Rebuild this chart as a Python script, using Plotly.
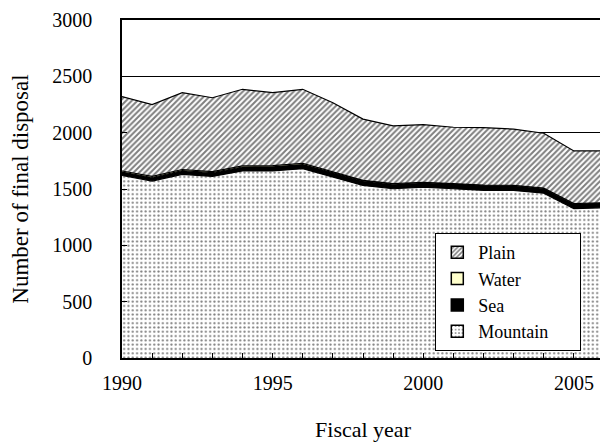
import plotly.graph_objects as go

# ---------------------------------------------------------------------------
# Data
# ---------------------------------------------------------------------------
years = list(range(1990, 2007))
mountain = [1620, 1570, 1630, 1612, 1660, 1660, 1680, 1605, 1532, 1502,
            1516, 1502, 1488, 1487, 1463, 1325, 1334]
sea = [30, 32, 33, 33, 35, 37, 37, 38, 40, 40, 40, 42, 42, 42, 42, 42, 42]
water = [10, 10, 10, 10, 10, 10, 10, 6, 5, 5, 4, 4, 4, 4, 4, 3, 3]
total = [2320, 2250, 2355, 2310, 2385, 2355, 2385, 2265, 2120, 2060,
         2072, 2048, 2045, 2032, 1995, 1838, 1838]
plain = [t - m - s - w for t, m, s, w in zip(total, mountain, sea, water)]

FONT = "Liberation Serif, Times New Roman, serif"
OUTLINE = dict(color="black", width=1.2)

DOTS = dict(shape=".", fgcolor="black", bgcolor="white", size=4.3, solidity=0.2)
HATCH = dict(shape="/", fgcolor="black", bgcolor="white", size=4, solidity=0.5)

fig = go.Figure()

# --- Stacked areas (bottom to top) ---
fig.add_trace(go.Scatter(x=years, y=mountain, name="Mountain", mode="lines",
                         stackgroup="one", line=OUTLINE, fillcolor="white",
                         fillpattern=DOTS, showlegend=False))
fig.add_trace(go.Scatter(x=years, y=sea, name="Sea", mode="lines",
                         stackgroup="one", line=OUTLINE, fillcolor="black",
                         showlegend=False))
fig.add_trace(go.Scatter(x=years, y=water, name="Water", mode="lines",
                         stackgroup="one", line=OUTLINE, fillcolor="#FFFFCC",
                         showlegend=False))
fig.add_trace(go.Scatter(x=years, y=plain, name="Plain", mode="lines",
                         stackgroup="one", line=OUTLINE, fillcolor="white",
                         fillpattern=HATCH, showlegend=False))

# --- Legend swatches (empty bars give square patterned boxes) ---
# trailing non-breaking spaces only widen the legend box
swatches = [
    ("Plain", dict(color="white", pattern=HATCH)),
    ("Water", dict(color="#FFFFCC")),
    ("Sea", dict(color="black")),
    ("Mountain" + "\u00a0" * 6, dict(color="white", pattern=DOTS)),
]
for name, marker in swatches:
    marker["line"] = dict(color="black", width=1.5)
    fig.add_trace(go.Bar(x=[None], y=[None], name=name, marker=marker))

# page body has an 8px margin, so the figure is sized/offset to compensate
fig.update_layout(
    width=600, height=438,
    paper_bgcolor="white", plot_bgcolor="white",
    margin=dict(l=114, r=4, t=12, b=88),
    font=dict(family=FONT, size=20, color="black"),
    showlegend=True,
    legend=dict(
        x=0.65, y=0.37, xanchor="left", yanchor="top",
        traceorder="normal", bgcolor="white",
        bordercolor="black", borderwidth=1,
        font=dict(family=FONT, size=18),
        itemwidth=32,
    ),
)
fig.update_xaxes(
    range=[1990, 2006], tickmode="array", tickvals=[1990, 1995, 2000, 2005],
    ticks="inside", ticklen=5, tickcolor="black",
    minor=dict(dtick=1, ticks="inside", ticklen=5, tickcolor="black"),
    showgrid=False, zeroline=False, automargin=False,
    showline=True, linecolor="black", linewidth=1.5, mirror=True,
    ticklabelstandoff=6,
    title_text="Fiscal year", title_standoff=29,
    title_font=dict(family=FONT, size=22, color="black"),
)
fig.update_yaxes(
    range=[0, 3000], dtick=500,
    ticks="inside", ticklen=5, tickcolor="black",
    showgrid=True, gridcolor="black", gridwidth=1, zeroline=False,
    showline=True, linecolor="black", linewidth=1.5, mirror=True,
    ticklabelstandoff=24, automargin=False,
    title_text="Number of final disposal", title_standoff=17,
    title_font=dict(family=FONT, size=23, color="black"),
)

fig.write_html("out.html")
